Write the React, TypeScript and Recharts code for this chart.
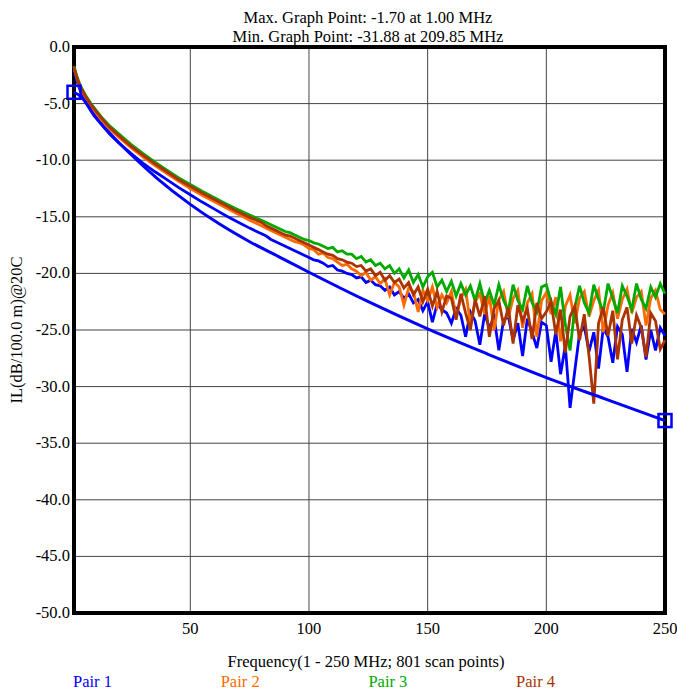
import React from 'react';
import { LineChart, Line, XAxis, YAxis, CartesianGrid, ReferenceArea } from 'recharts';

// scan frequencies (MHz)
const freqs = [
  1, 2, 3, 4, 6, 8, 10, 13, 16, 20, 25, 30, 35, 40, 45, 50, 55, 60, 65, 70, 75,
  80, 82, 84, 86, 88, 90, 92, 94, 96, 98,
  100, 102, 104, 106, 108, 110, 112, 114, 116, 118,
  120, 122, 124, 126, 128, 130, 132, 134, 136, 138,
  140, 142, 144, 146, 148, 150, 152, 154, 156, 158,
  160, 162, 164, 166, 168, 170, 172, 174, 176, 178,
  180, 182, 184, 186, 188, 190, 192, 194, 196, 198,
  200, 202, 204, 206, 208, 210, 212, 214, 216, 218,
  220, 222, 224, 226, 228, 230, 232, 234, 236, 238,
  240, 242, 244, 246, 248, 250,
];

const pair1 = [
  -2.0, -2.85, -3.5, -4.05, -4.85, -5.55, -6.1, -6.95, -7.7, -8.5, -9.4, -10.25, -11.0, -11.7, -12.4, -13.05, -13.7, -14.3, -14.9, -15.45, -16.0,
  -16.5, -16.7, -17.0, -17.2, -17.4, -17.6, -17.8, -18.0, -18.2, -18.4,
  -18.6, -18.8, -18.9, -19.1, -19.4, -19.3, -19.7, -19.8, -20.0, -20.1,
  -20.4, -20.3, -20.8, -20.6, -21.0, -21.1, -21.5, -21.2, -21.9, -21.6,
  -22.2, -21.8, -22.6, -22.3, -23.3, -22.5, -24.3, -22.7, -23.2, -23.5,
  -24.4, -23.1, -23.7, -25.6, -23.4, -24.2, -26.3, -23.6, -24.8, -23.9,
  -26.8, -24.1, -23.8, -25.9, -24.4, -27.3, -24.0, -25.2, -26.6, -24.3,
  -24.6, -27.8, -25.1, -28.9, -26.4, -31.88, -28.6, -25.3, -24.7, -26.9,
  -25.2, -28.4, -24.8, -25.6, -27.9, -24.7, -25.4, -28.7, -24.9, -26.1,
  -24.6, -27.6, -25.0, -26.8, -24.8, -25.5,
];

const pair2 = [
  -1.8, -2.6, -3.25, -3.75, -4.5, -5.15, -5.75, -6.55, -7.25, -8.0, -8.9, -9.7, -10.45, -11.15, -11.85, -12.5, -13.1, -13.65, -14.2, -14.75, -15.3,
  -15.8, -16.0, -16.2, -16.4, -16.6, -16.8, -17.0, -17.2, -17.3, -17.5,
  -17.8, -17.9, -18.3, -18.2, -18.6, -18.7, -19.0, -19.3, -19.2, -19.6,
  -19.8, -20.2, -19.9, -20.6, -20.3, -20.9, -20.5, -21.9, -20.8, -21.2,
  -22.8, -21.3, -21.6, -23.4, -21.5, -22.4, -21.2, -23.0, -21.9, -22.6,
  -21.6, -23.8, -22.2, -21.4, -24.5, -22.5, -21.8, -23.6, -22.0, -25.0,
  -22.3, -21.6, -23.9, -22.2, -21.5, -24.8, -22.6, -21.8, -25.6, -22.4,
  -21.7, -23.6, -22.1, -26.0, -22.9, -21.9, -24.4, -22.2, -21.6, -23.8,
  -22.4, -21.5, -25.2, -22.8, -21.7, -24.0, -22.3, -21.4, -23.5, -22.1,
  -21.6, -24.6, -22.2, -21.5, -23.2, -23.6,
];

const pair3 = [
  -1.7, -2.45, -3.05, -3.55, -4.3, -4.95, -5.5, -6.3, -6.95, -7.7, -8.6, -9.4, -10.15, -10.85, -11.55, -12.15, -12.75, -13.3, -13.85, -14.35, -14.85,
  -15.3, -15.5, -15.7, -15.9, -16.1, -16.3, -16.4, -16.6, -16.8, -17.0,
  -17.1, -17.3, -17.4, -17.6, -17.8, -17.7, -18.1, -18.0, -18.3, -18.3,
  -18.7, -18.5, -19.0, -18.8, -19.3, -19.1, -19.6, -19.3, -20.0, -19.6,
  -20.4, -19.7, -20.8, -20.1, -21.2, -20.3, -19.9, -21.2, -20.6, -21.6,
  -20.7, -22.0, -20.9, -21.9, -21.1, -22.4, -20.9, -22.6, -21.5, -22.8,
  -21.0, -22.4, -23.3, -21.0, -22.4, -23.2, -21.1, -22.6, -23.4, -21.2,
  -21.0, -22.5, -23.6, -21.2, -24.5, -26.8, -23.0, -21.1, -22.6, -23.5,
  -21.0, -22.3, -23.4, -20.9, -22.2, -23.5, -21.1, -22.0, -23.2, -20.9,
  -22.3, -23.1, -21.2, -22.1, -20.9, -21.8,
];

const pair4 = [
  -1.75, -2.55, -3.15, -3.65, -4.4, -5.05, -5.6, -6.4, -7.1, -7.85, -8.75, -9.55, -10.3, -11.0, -11.7, -12.3, -12.9, -13.45, -14.0, -14.55, -15.05,
  -15.5, -15.8, -16.0, -16.2, -16.4, -16.6, -16.7, -16.9, -17.1, -17.3,
  -17.5, -17.7, -17.9, -18.1, -18.3, -18.4, -18.7, -18.8, -19.0, -19.1,
  -19.4, -19.3, -19.8, -19.6, -20.2, -19.9, -20.6, -20.2, -20.8, -20.5,
  -21.3, -20.8, -21.9, -21.2, -22.5, -21.4, -22.9, -21.6, -23.4, -22.0,
  -22.2, -24.1, -21.8, -23.5, -25.0, -22.3, -23.8, -22.0, -25.6, -23.1,
  -22.4, -24.6, -23.0, -26.2, -22.8, -24.2, -23.1, -25.8, -22.6, -24.0,
  -23.4, -22.5, -25.4, -23.2, -27.0, -23.8, -22.9, -25.9, -23.6, -27.3,
  -31.5, -24.4, -23.0, -25.5, -23.3, -27.6, -24.1, -23.0, -26.2, -23.7,
  -24.8, -27.4, -23.5, -24.2, -26.7, -25.9,
];

// limit line
const limitFreqs = [1, 4, 10, 16, 25, 36, 50, 62, 75, 88, 100, 125, 150, 175, 200, 225, 250];
const limitVals = [-4.0, -4.4, -6.2, -7.6, -9.5, -11.6, -13.9, -15.6, -17.2, -18.6, -19.9, -22.5, -24.9, -27.1, -29.2, -31.1, -33.0];

const xTicks = [50, 100, 150, 200, 250];
const yTicks = [0, -5, -10, -15, -20, -25, -30, -35, -40, -45, -50];

const pairs = [
  { key: 'p1', name: 'Pair 1', color: '#0000ff', values: pair1 },
  { key: 'p2', name: 'Pair 2', color: '#ff6a00', values: pair2 },
  { key: 'p3', name: 'Pair 3', color: '#00aa00', values: pair3 },
  { key: 'p4', name: 'Pair 4', color: '#aa3300', values: pair4 },
];

const data = freqs.map((f, i) => {
  const row: any = { f };
  pairs.forEach((p) => { row[p.key] = p.values[i]; });
  return row;
});
const limitData = limitFreqs.map((f, i) => ({ f, lim: limitVals[i] }));

const FONT = 'Liberation Serif';

const renderXTick = (props: any) => {
  const { x, y, payload, index } = props;
  return (
    <text key={`xt-${index}`} x={x} y={y + 13} textAnchor="middle" fontFamily={FONT} fontSize={16.5} fill="#000">
      {payload.value}
    </text>
  );
};

const renderYTick = (props: any) => {
  const { x, y, payload, index } = props;
  return (
    <text key={`yt-${index}`} x={x} y={y + 5} textAnchor="end" fontFamily={FONT} fontSize={16.5} fill="#000">
      {Number(payload.value).toFixed(1)}
    </text>
  );
};

const endSquare = (props: any) => {
  const { cx, cy, index } = props;
  if (index !== 0 && index !== limitData.length - 1) return <g key={`d-${index}`} />;
  return (
    <rect key={`d-${index}`} x={cx - 6.5} y={cy - 6.5} width={13} height={13}
      fill="none" stroke="#0000ff" strokeWidth={2.5} />
  );
};

export default function App() {
  return (
    <div style={{ position: 'absolute', left: 0, top: 0, width: 677, height: 691, background: '#fff', fontFamily: FONT, color: '#000' }}>
      <div style={{ position: 'absolute', left: 168, top: 8, width: 400, textAlign: 'center', fontSize: 16.5, lineHeight: '19px' }}>
        <div>Max. Graph Point: -1.70 at 1.00 MHz</div>
        <div>Min. Graph Point: -31.88 at 209.85 MHz</div>
      </div>
      <LineChart width={677} height={691} data={data} margin={{ top: 47, right: 12, bottom: 48, left: 14 }}>
        <CartesianGrid stroke="#444" strokeWidth={1} />
        <XAxis dataKey="f" type="number" domain={[1, 250]} ticks={xTicks}
          axisLine={false} tickLine={false} height={30} tick={renderXTick} />
        <YAxis type="number" domain={[-50, 0]} ticks={yTicks}
          axisLine={false} tickLine={false} tickSize={3} tickMargin={1} width={60} tick={renderYTick} />
        {pairs.map((p) => (
          <Line key={p.key} dataKey={p.key} name={p.name} type="linear" stroke={p.color}
            strokeWidth={2.8} dot={false} isAnimationActive={false} />
        ))}
        <Line data={limitData} dataKey="lim" type="monotone" stroke="#0000ff" strokeWidth={3}
          dot={endSquare} isAnimationActive={false} />
        <ReferenceArea x1={1} x2={250} y1={-50} y2={0} fill="none" stroke="#000" strokeWidth={4} ifOverflow="visible" />
      </LineChart>
      <div style={{ position: 'absolute', left: 17, top: 330, transform: 'translate(-50%, -50%) rotate(-90deg)', whiteSpace: 'nowrap', fontSize: 16.5 }}>
        IL(dB/100.0 m)@20C
      </div>
      <div style={{ position: 'absolute', left: 166, top: 652, width: 400, textAlign: 'center', fontSize: 16.5, lineHeight: '20px' }}>
        Frequency(1 - 250 MHz; 801 scan points)
      </div>
      {pairs.map((p, i) => (
        <div key={p.key} style={{ position: 'absolute', left: 73 + i * 147.7, top: 672, fontSize: 16.5, lineHeight: '20px', color: p.color }}>
          {p.name}
        </div>
      ))}
    </div>
  );
}
